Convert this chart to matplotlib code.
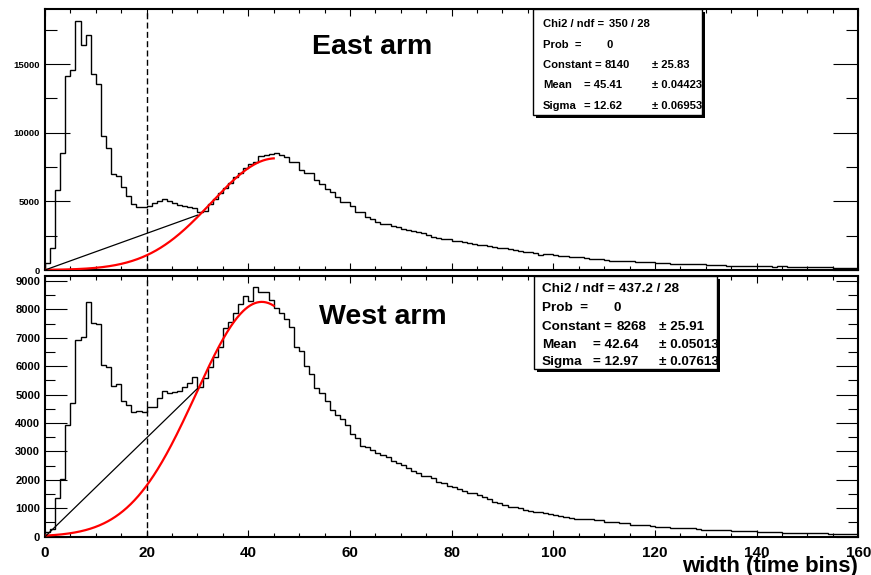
import numpy as np
import matplotlib
matplotlib.use("Agg")
import matplotlib.pyplot as plt
from matplotlib.patches import Rectangle

plt.rcParams['font.family'] = ['Liberation Sans', 'DejaVu Sans']
plt.rcParams['font.weight'] = 'bold'

# ---------------- data ----------------
bin_edges = np.arange(0, 161, 1)

east_counts = [
    540, 1580, 5840, 8560, 14110, 14600, 18130, 16420, 17150, 14300,
    13550, 9730, 8880, 6980, 6860, 6030, 5400, 4790, 4620, 4570,
    4670, 4860, 5010, 5160, 5040, 4870, 4720, 4670, 4620, 4530,
    4230, 4330, 4820, 5160, 5600, 5960, 6330, 6810, 7100, 7420,
    7710, 7900, 8320, 8370, 8470, 8510, 8370, 8220, 7900, 7880,
    7290, 7050, 7040, 6560, 6270, 5900, 5660, 5300, 4940, 4920,
    4670, 4260, 4240, 3890, 3720, 3520, 3360, 3340, 3230, 3110,
    2990, 2920, 2840, 2750, 2670, 2550, 2370, 2350, 2280, 2240,
    2140, 2080, 2060, 1990, 1900, 1850, 1800, 1750, 1680, 1610,
    1590, 1530, 1460, 1410, 1340, 1290, 1240, 1120, 1150, 1130,
    1090, 1040, 1000, 970, 960, 920, 910, 820, 800, 790,
    700, 680, 670, 660, 640, 630, 610, 570, 560, 550,
    520, 510, 500, 450, 440, 440, 430, 440, 420, 410,
    370, 365, 360, 350, 320, 315, 310, 300, 310, 290,
    270, 270, 260, 250, 290, 260, 240, 235, 230, 220,
    240, 250, 200, 190, 185, 180, 180, 175, 170, 175,
]

west_counts = [
    150, 280, 1350, 2020, 3930, 4700, 6930, 7040, 8280, 7510,
    7480, 6050, 5960, 5300, 5380, 4790, 4640, 4380, 4430, 4400,
    4580, 4580, 4870, 5140, 5070, 5110, 5140, 5280, 5420, 5610,
    5280, 5580, 5990, 6340, 6690, 7340, 7570, 7890, 8190, 8480,
    8300, 8780, 8630, 8620, 8320, 8040, 7880, 7650, 7400, 6690,
    6530, 6020, 5720, 5250, 5060, 4780, 4460, 4280, 4150, 3950,
    3600, 3460, 3200, 3160, 3070, 2960, 2860, 2790, 2680, 2590,
    2510, 2420, 2320, 2250, 2150, 2130, 2060, 1940, 1880, 1800,
    1740, 1680, 1620, 1550, 1530, 1470, 1390, 1330, 1230, 1180,
    1120, 1060, 1030, 1000, 940, 920, 880, 860, 820, 800,
    760, 740, 700, 670, 640, 630, 620, 610, 600, 590,
    520, 505, 500, 475, 465, 420, 405, 400, 395, 380,
    340, 330, 325, 300, 295, 290, 300, 290, 280, 245,
    240, 235, 230, 240, 225, 205, 200, 195, 200, 190,
    180, 175, 170, 175, 165, 145, 140, 140, 135, 130,
    120, 125, 115, 120, 110, 100, 95, 95, 90, 95,
]

# Gaussian fit parameters (from stats boxes)
east_const, east_mean, east_sigma = 8140, 45.41, 12.62
west_const, west_mean, west_sigma = 8268, 42.64, 12.97
fit_range = [0, 45]

# straight reference lines
line_x = [0, 30]
east_line_y = [0, 4000]
west_line_y = [0, 5220]

cut_x = 20

x_ticks = [0, 20, 40, 60, 80, 100, 120, 140, 160]
east_yticks = [0, 5000, 10000, 15000]
west_yticks = [0, 1000, 2000, 3000, 4000, 5000, 6000, 7000, 8000, 9000]
east_ymax = 19000
west_ymax = 9190

east_title = "East arm"
west_title = "West arm"
xlabel = "width (time bins)"

east_stats = [
    ("Chi2 / ndf =", "350 / 28", ""),
    ("Prob  =", "0", ""),
    ("Constant =", "8140", "\u00b1 25.83"),
    ("Mean", "= 45.41", "\u00b1 0.04423"),
    ("Sigma", "= 12.62", "\u00b1 0.06953"),
]
west_stats = [
    ("Chi2 / ndf = 437.2 / 28", "", ""),
    ("Prob  =", "0", ""),
    ("Constant =", "8268", "\u00b1 25.91"),
    ("Mean", "= 42.64", "\u00b1 0.05013"),
    ("Sigma", "= 12.97", "\u00b1 0.07613"),
]

assert len(east_counts) == 160 and len(west_counts) == 160

# ---------------- layout ----------------
W, H = 871, 575
fig = plt.figure(figsize=(W / 100, H / 100), dpi=100)
fig.patch.set_facecolor('white')

STATS_FONT = ['Liberation Sans', 'DejaVu Sans']


def px_rect(l, t, r, b):
    return [l / W, 1 - b / H, (r - l) / W, (b - t) / H]


ax1 = fig.add_axes(px_rect(45, 9.3, 858.3, 270))
ax2 = fig.add_axes(px_rect(45, 275.7, 858.3, 536.7))


def gauss(x, c, m, s):
    return c * np.exp(-0.5 * ((x - m) / s) ** 2)


def draw_panel(ax, counts, const, mean, sigma, line_y, ymax, yticks,
               ymajor_len, yminor_len, yminor_step, ylab_size):
    ax.stairs(counts, bin_edges, color='black', lw=1.0, baseline=0)
    xf = np.linspace(fit_range[0], fit_range[1], 300)
    ax.plot(xf, gauss(xf, const, mean, sigma), color='#ff0000', lw=1.6, zorder=4)
    ax.plot(line_x, line_y, color='black', lw=0.9, zorder=4)
    ax.axvline(cut_x, color='black', lw=1.0, ls=(0, (4.3, 2.4)), zorder=3)
    ax.set_xlim(0, 160)
    ax.set_ylim(0, ymax)
    ax.set_xticks(x_ticks)
    ax.set_xticks(np.arange(0, 161, 5), minor=True)
    ax.set_yticks(yticks)
    ax.set_yticks(np.arange(0, ymax, yminor_step), minor=True)
    ax.tick_params(axis='both', which='both', direction='in', top=True,
                   right=True, width=0.8, colors='black')
    ax.tick_params(axis='y', which='major', length=ymajor_len, pad=3.5,
                   labelsize=ylab_size)
    ax.tick_params(axis='y', which='minor', length=yminor_len)
    ax.tick_params(axis='x', which='major', length=5)
    ax.tick_params(axis='x', which='minor', length=2.9)
    for lab in ax.get_yticklabels():
        lab.set_fontweight('bold')
    for sp in ax.spines.values():
        sp.set_linewidth(1.5)
        sp.set_color('black')


draw_panel(ax1, east_counts, east_const, east_mean, east_sigma, east_line_y,
           east_ymax, east_yticks, 18, 8.6, 2500, 6.8)
draw_panel(ax2, west_counts, west_const, west_mean, west_sigma, west_line_y,
           west_ymax, west_yticks, 15.8, 7.2, 500, 8)

ax1.tick_params(axis='x', labelbottom=False)
ax2.tick_params(axis='x', labelsize=11, pad=6.5)
for lab in ax2.get_xticklabels():
    lab.set_fontweight('bold')

# titles
fig.text(372 / W, 1 - 47.5 / H, east_title, fontsize=20.5, fontweight='bold',
         ha='center', va='center')
fig.text(382.5 / W, 1 - 316.7 / H, west_title, fontsize=20.5, fontweight='bold',
         ha='center', va='center')

fig.text(858 / W, 1 - 572 / H, xlabel, fontsize=16, fontweight='bold',
         ha='right', va='baseline')


def stats_box(l, t, r, b, rows, row_y, xs, fsize):
    fig.add_artist(Rectangle(((l + 3) / W, 1 - (b + 3) / H), (r - l) / W, (b - t) / H,
                             transform=fig.transFigure, facecolor='black',
                             edgecolor='none', zorder=5))
    fig.add_artist(Rectangle((l / W, 1 - b / H), (r - l) / W, (b - t) / H,
                             transform=fig.transFigure, facecolor='white',
                             edgecolor='black', lw=1.0, zorder=6))
    for (lab, val, err), y, xr in zip(rows, row_y, xs):
        fig.text(xr[0] / W, 1 - y / H, lab, fontsize=fsize, fontweight='bold',
                 family=STATS_FONT, ha='left', va='center', zorder=7)
        if val:
            fig.text(xr[1] / W, 1 - y / H, val, fontsize=fsize, fontweight='bold',
                     family=STATS_FONT, ha='left', va='center', zorder=7)
        if err:
            fig.text(xr[2] / W, 1 - y / H, err, fontsize=fsize, fontweight='bold',
                     family=STATS_FONT, ha='left', va='center', zorder=7)


stats_box(533, 9.3, 701.7, 115, east_stats,
          [24.3, 44.7, 64.7, 85, 105.7],
          [(543, 609, 0), (543, 606, 0), (543, 605, 652),
           (543, 584, 652), (543, 584, 652)], 8.1)
stats_box(534, 275.7, 716.7, 369, west_stats,
          [289, 308, 326.7, 345, 362.3],
          [(542, 0, 0), (542, 613, 0), (542, 617, 659),
           (542, 593, 659), (542, 593, 659)], 9.7)

fig.savefig("out.png", dpi=100)
